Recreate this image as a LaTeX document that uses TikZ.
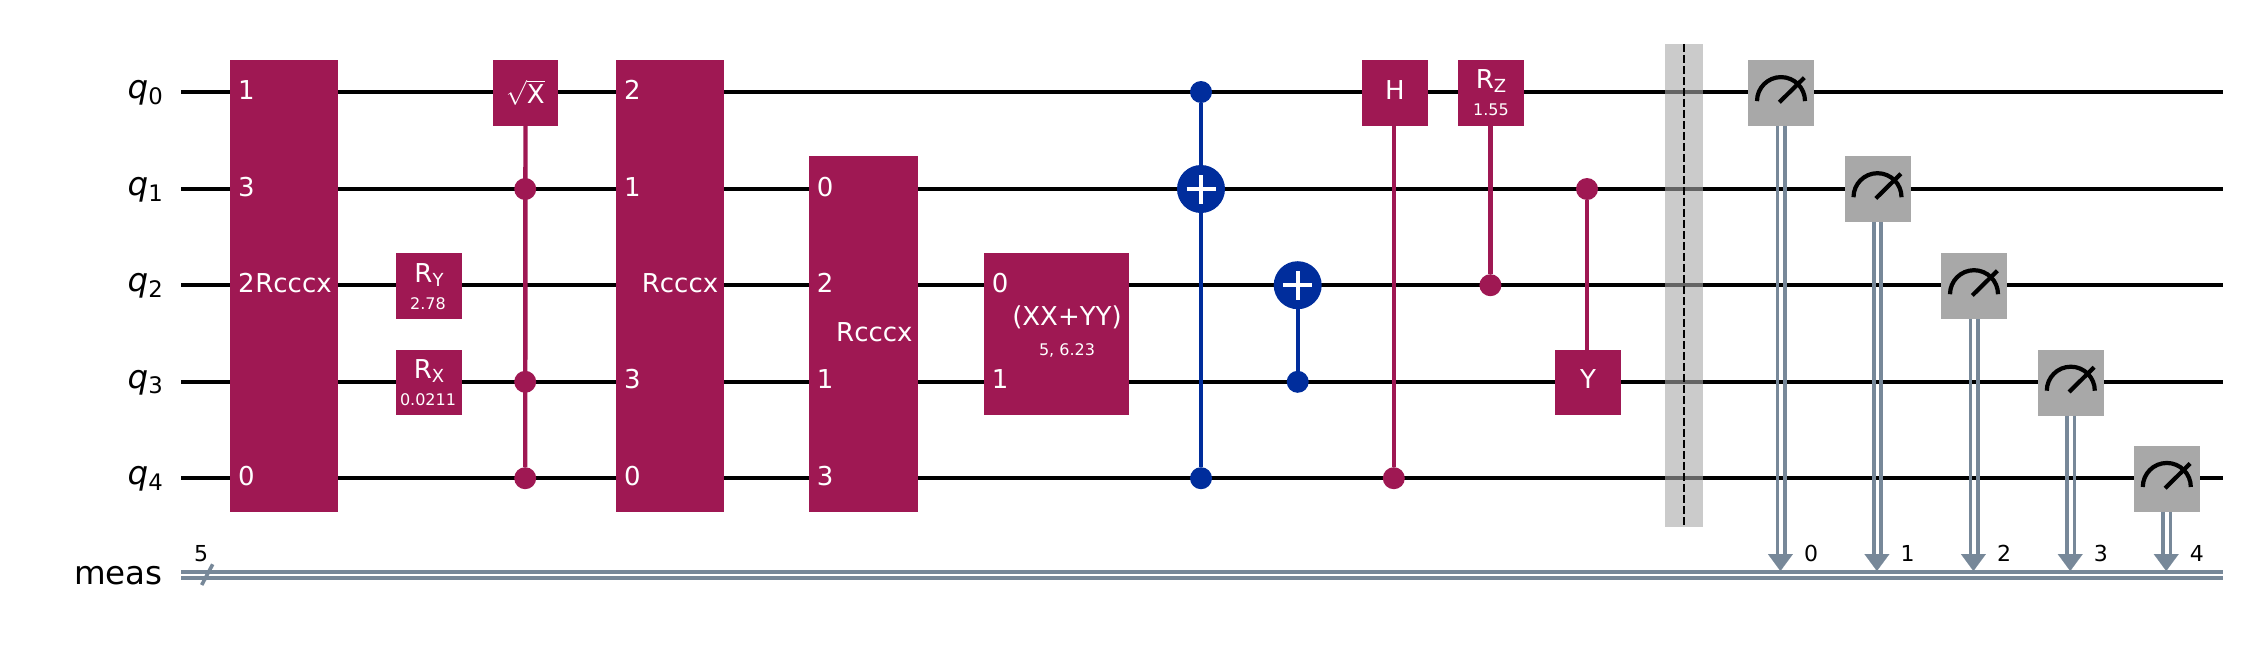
\documentclass[tikz,border=0pt]{standalone}
\usepackage{fontspec}
\setmainfont{DejaVu Sans}
\usetikzlibrary{arrows.meta}
\definecolor{gatecolor}{HTML}{9F1853}
\definecolor{cxcolor}{HTML}{002D9C}
\definecolor{metercolor}{HTML}{A8A8A8}
\definecolor{cregcolor}{HTML}{778899}
\newcommand{\gatefont}{\fontsize{26}{30}\selectfont}
\newcommand{\parfont}{\fontsize{16}{18}\selectfont}
\newcommand{\regfont}{\fontsize{32.5}{36}\selectfont}
\newcommand{\bitfont}{\fontsize{22}{24}\selectfont}
\newcommand{\rotname}[1]{R\raisebox{-4pt}{\fontsize{18}{20}\selectfont #1}}
\begin{document}
\begin{tikzpicture}[
    x=1pt, y=-1pt,
    qwire/.style={line width=4pt, black},
    cwire/.style={line width=3.6pt, cregcolor},
    gate/.style={rectangle, fill=gatecolor, inner sep=0pt},
    lbl/.style={text=white, inner sep=0pt, font=\gatefont},
    port/.style={lbl, anchor=base west, xshift=8pt, yshift=-7pt},
    title/.style={lbl, anchor=base},
    param/.style={lbl, anchor=base, font=\parfont},
    ctrl/.style={circle, fill=gatecolor, inner sep=0pt, minimum size=22pt},
    ctrlline/.style={line width=4.4pt, gatecolor},
    cxctrl/.style={ctrl, fill=cxcolor},
    cxline/.style={ctrlline, cxcolor},
    xorgate/.style={circle, fill=cxcolor, inner sep=0pt, minimum size=48pt,
        path picture={
            \draw[white, line width=3.8pt]
                ([xshift=-14.5pt]path picture bounding box.center) -- ([xshift=14.5pt]path picture bounding box.center)
                ([yshift=-14.5pt]path picture bounding box.center) -- ([yshift=14.5pt]path picture bounding box.center);
        }},
    meter/.style={rectangle, fill=metercolor, inner sep=0pt, minimum width=66pt, minimum height=66pt},
    needle/.style={line width=4.2pt, black},
    regname/.style={anchor=base east, inner sep=0pt, font=\regfont},
    bitlabel/.style={anchor=base, inner sep=0pt, font=\bitfont}
]
    \useasboundingbox (0,0) rectangle (2245,648);

    % Wires
    \foreach \i/\y in {0/92, 1/189, 2/285.2, 3/381.8, 4/478.2} {
        \coordinate (in\i) at (181,\y);
        \coordinate (out\i) at (2223,\y);
        \draw[qwire] (in\i) -- (out\i);
        \node[regname] (name\i) at (163,\y+6.5) {\textit{q}\raisebox{-5.5pt}{\fontsize{22.75}{24}\selectfont \i}};
    }
    \coordinate (cinA) at (181,571.9);
    \coordinate (coutA) at (2223,571.9);
    \coordinate (cinB) at (181,577.9);
    \coordinate (coutB) at (2223,577.9);
    \draw[cwire] (cinA) -- (coutA);
    \draw[cwire] (cinB) -- (coutB);
    \node[regname] (meas) at (163,584) {meas};

    % Rcccx boxes
    \node[gate, minimum width=108pt, minimum height=451.7pt] (rA) at (284,285.85) {};
    \node[gate, minimum width=108pt, minimum height=451.7pt] (rB) at (670,285.85) {};
    \node[gate, minimum width=109pt, minimum height=355.7pt] (rC) at (863.3,333.85) {};

    % Labels of the first box
    \node[port] (rA0) at (rA.west |- in0) {1};
    \node[port] (rA1) at (rA.west |- in1) {3};
    \node[port] (rA2) at (rA.west |- in2) {2};
    \node[port] (rA4) at (rA.west |- in4) {0};
    \node[title] (rAt) at (293.5,292.2) {Rcccx};

    % Labels of the second box
    \node[port] (rB0) at (rB.west |- in0) {2};
    \node[port] (rB1) at (rB.west |- in1) {1};
    \node[port] (rB3) at (rB.west |- in3) {3};
    \node[port] (rB4) at (rB.west |- in4) {0};
    \node[title] (rBt) at (680,292.2) {Rcccx};

    % Labels of the third box
    \node[port] (rC1) at (rC.west |- in1) {0};
    \node[port] (rC2) at (rC.west |- in2) {2};
    \node[port] (rC3) at (rC.west |- in3) {1};
    \node[port] (rC4) at (rC.west |- in4) {3};
    \node[title] (rCt) at (874.4,341) {Rcccx};

    % Rotations
    \node[gate, minimum width=66pt, minimum height=66pt] (ry) at (429,286) {};
    \node[title] (ryt) at (429,282) {\rotname{Y}};
    \node[param] (ryp) at (428,309) {2.78};
    \node[gate, minimum width=66pt, minimum height=65pt] (rx) at (429,382.5) {};
    \node[title] (rxt) at (429,378.5) {\rotname{X}};
    \node[param] (rxp) at (428,405.5) {0.0211};

    % Sqrt X and its controls
    \node[gate, minimum width=65pt, minimum height=65.8pt, text=white, font=\gatefont] (sx) at (525.5,92.9) {$\sqrt{\mbox{X}}$};
    \node[ctrl] (sx1) at (525.2,189) {};
    \node[ctrl] (sx3) at (525.2,381.8) {};
    \node[ctrl] (sx4) at (525.2,478.2) {};
    \draw[ctrlline] (sx) -- (sx4);

    % XX+YY
    \node[gate, minimum width=145pt, minimum height=162pt] (xy) at (1056.3,334) {};
    \node[port] (xy0) at (xy.west |- in2) {0};
    \node[port] (xy1) at (xy.west |- in3) {1};
    \node[title] (xyt) at (1067,325.6) {(XX+YY)};
    \node[param] (xyp) at (1067,355) {5, 6.23};

    % CX gates
    \node[cxctrl] (cxa0) at (1201,92) {};
    \node[xorgate] (cxa1) at (1201,189) {};
    \node[cxctrl] (cxa4) at (1201,478.2) {};
    \draw[cxline] (cxa0) -- (cxa1);
    \draw[cxline] (cxa1) -- (cxa4);
    \node[xorgate] (cxb2) at (1297.7,285.2) {};
    \node[cxctrl] (cxb3) at (1297.7,381.8) {};
    \draw[cxline] (cxb2) -- (cxb3);

    % H, Rz, Y
    \node[gate, minimum width=66pt, minimum height=65.8pt] (hg) at (1394.8,92.9) {};
    \node[title] (hgt) at (1394.8,99) {H};
    \node[ctrl] (hc) at (1393.8,478.2) {};
    \draw[ctrlline] (hg.south -| hc) -- (hc);
    \node[gate, minimum width=66pt, minimum height=65.8pt] (rz) at (1491,92.9) {};
    \node[title] (rzt) at (1491,88.5) {\rotname{Z}};
    \node[param] (rzp) at (1491,115.5) {1.55};
    \node[ctrl] (rzc) at (1490.4,285.2) {};
    \draw[ctrlline] (rz.south -| rzc) -- (rzc);
    \node[gate, minimum width=66pt, minimum height=65pt] (yg) at (1588,382.5) {};
    \node[title] (ygt) at (1588,388.8) {Y};
    \node[ctrl] (yc) at (1587,189) {};
    \draw[ctrlline] (yc) -- (yg.north -| yc);

    % Barrier
    \node[rectangle, fill=metercolor, opacity=.6, inner sep=0pt, minimum width=38pt, minimum height=482.6pt] (bar) at (1683.9,285.3) {};
    \draw[line width=2.2pt, black, dash pattern=on 8pt off 3pt] (bar.north) -- (bar.south);

    % Measurements
    \foreach \i/\x/\y in {0/1781/92.9, 1/1877.5/189, 2/1974/286, 3/2070.8/382.5, 4/2166.8/478.75} {
        \node[meter] (m\i) at (\x,\y) {};
        \draw[needle] ([shift={(-24,8.2)}]m\i.center) arc[start angle=180, end angle=0, radius=24pt];
        \draw[needle] ([shift={(-1.7,9.4)}]m\i.center) -- ([shift={(23.3,-15.2)}]m\i.center);
        \coordinate (c\i) at (\x-.6,571);
        \coordinate (cb\i) at (\x-.6,554);
        \draw[cwire] ([xshift=-3.7pt]m\i.south) -- ([xshift=-3.7pt]m\i.south |- cb\i);
        \draw[cwire] ([xshift=3.7pt]m\i.south) -- ([xshift=3.7pt]m\i.south |- cb\i);
        \draw[line width=.1pt, cregcolor, -{Triangle[length=17pt, width=25pt]}] (cb\i) -- (c\i);
        \node[bitlabel] (b\i) at (\x+30,561) {\i};
    }

    % Register size
    \coordinate (slashA) at (201.7,585);
    \coordinate (slashB) at (212.7,564.3);
    \draw[line width=3.6pt, cregcolor] (slashA) -- (slashB);
    \node[bitlabel] (sizelbl) at (201,561) {5};
\end{tikzpicture}
\end{document}
